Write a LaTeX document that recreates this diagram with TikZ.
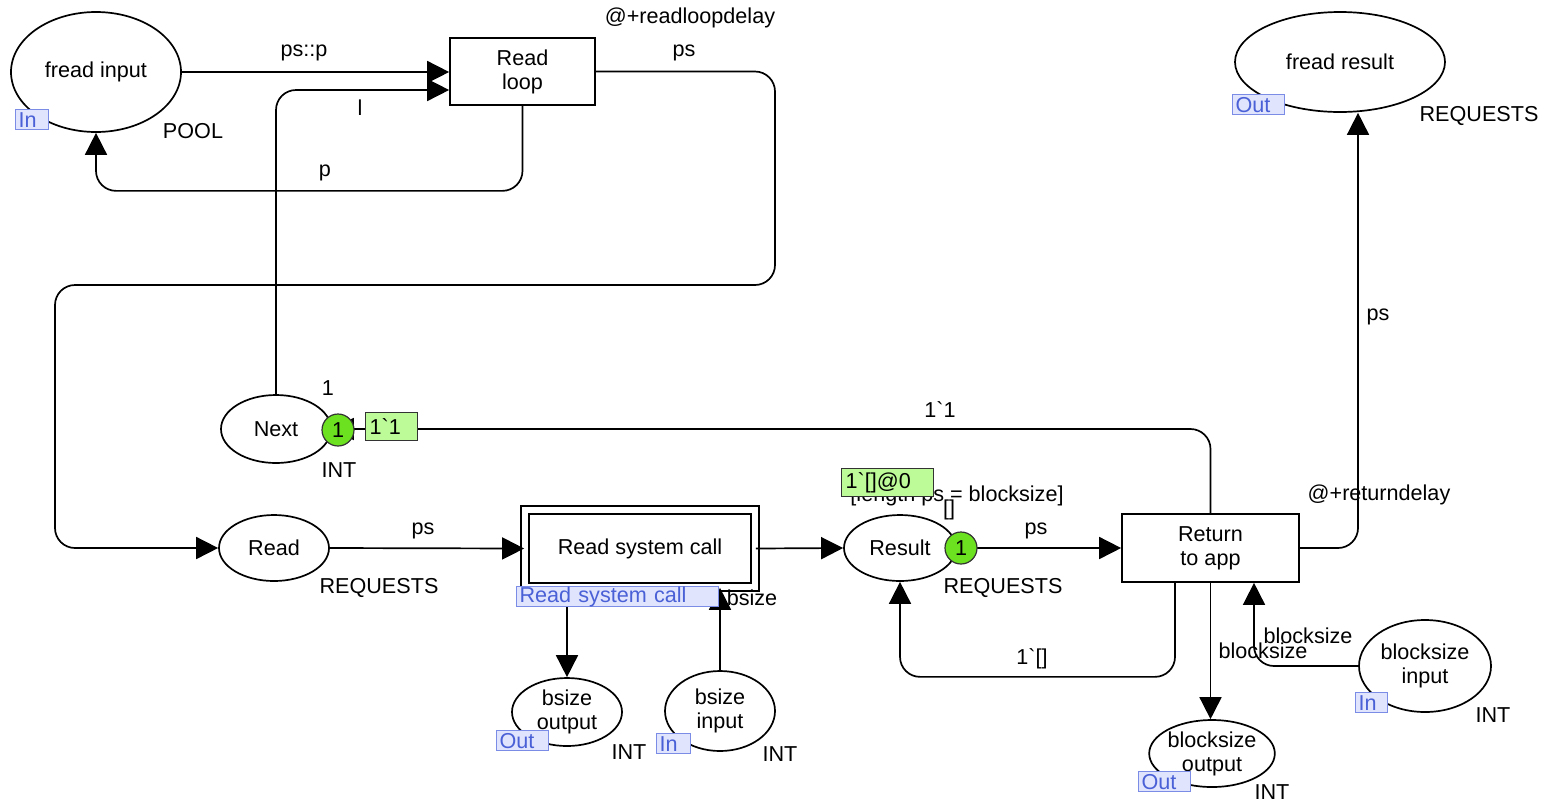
\documentclass[tikz,border=0pt]{standalone}
\usepackage{fontspec}
\setmainfont{Liberation Sans}[Ligatures=TeXOff]
\usetikzlibrary{shapes.geometric,arrows.meta}
\definecolor{tagfill}{HTML}{E0E4FC}
\definecolor{tagline}{HTML}{7B8CE6}
\definecolor{tagtext}{HTML}{4A60D6}
\definecolor{tokfill}{HTML}{6CE11F}
\definecolor{markfill}{HTML}{BDFB98}
\begin{document}
\begin{tikzpicture}[x=0.5pt,y=-0.5pt,
  font=\fontsize{10.8}{12}\selectfont,
  place/.style={ellipse,draw,line width=0.85pt,fill=white,inner sep=0pt,align=center},
  trans/.style={rectangle,draw,line width=0.85pt,fill=white,inner sep=0pt,align=center},
  arc/.style={draw,line width=0.85pt,rounded corners=10pt,-{Triangle[length=11pt,width=11pt]}},
  porttag/.style={rectangle,draw=tagline,fill=tagfill,text=tagtext,line width=0.6pt,
    inner xsep=1.5pt,inner ysep=0pt,minimum height=10pt,anchor=north west,align=left,text width=#1},
  token/.style={circle,draw=black!80,fill=tokfill,line width=0.6pt,inner sep=0pt,minimum size=16pt},
  marking/.style={rectangle,draw=black!80,fill=markfill,line width=0.6pt,inner xsep=2pt,inner ysep=0pt,
    minimum height=14pt,anchor=north west,align=left,text width=#1},
  lbl/.style={inner sep=0pt}]
\useasboundingbox (0,0) rectangle (1545,804);

% places
\node[place,minimum width=85pt,minimum height=60pt] (fi) at (96,72) {fread input};
\node[place,minimum width=105pt,minimum height=50pt] (fr) at (1340,62) {fread result};
\node[place,minimum width=55pt,minimum height=34pt] (nx) at (276,429) {Next};
\node[place,minimum width=55pt,minimum height=33pt] (rd) at (274,548) {Read};
\node[place,minimum width=56pt,minimum height=33pt] (rs) at (900,548) {Result};
\node[place,minimum width=55pt,minimum height=34pt] (so) at (567,712) {bsize\\output};
\node[place,minimum width=55pt,minimum height=40pt] (si) at (720,711) {bsize\\input};
\node[place,minimum width=56pt,minimum height=33.5pt] (bo) at (1212,753.5) {blocksize\\output};
\node[place,minimum width=66pt,minimum height=46pt] (bi) at (1425,666) {blocksize\\input};

% transitions
\node[trans,minimum width=72.5pt,minimum height=33.5pt] (rl) at (522.5,71.5) {Read\\loop};
\node[trans,minimum width=88.5pt,minimum height=34pt] (ra) at (1210.5,548) {Return\\to app};
\node[trans,double,double distance=3.2pt,minimum width=115pt,minimum height=38.5pt] (rsc) at (640,548.5) {Read system call};

% arcs
\draw[arc] (fi.east) -- (fi.east -| rl.west);
\draw[arc] (nx.north) |- ([yshift=-9.25pt]rl.west);
\draw[arc] (rl.south) -- ++(0,85) -| (fi.south);
\coordinate (c1) at (775,285);
\coordinate (c2) at (55,285);
\draw[arc] (rl.east) -| (c1) -- (c2) |- (rd.west);
\draw[arc] (ra.north) |- (nx.east);
\draw[arc] (rd.east) -- (rsc.west);
\draw[arc] (rsc.east) -- (rs.west);
\draw[arc] (rs.east) -- (ra.west);
\draw[arc] ([xshift=-17.75pt]ra.south) -- ++(0,94) -| (rs.south);
\draw[arc] (ra.east) -| ([xshift=9pt]fr.south);
\draw[arc] (ra.south) -- (ra.south |- bo.north);
\draw[arc] (bi.west) -| ([xshift=21.75pt]ra.south);
\draw[arc] (so.north |- rsc.south) -- (so.north);
\draw[arc] (si.north) -- (si.north |- rsc.south);

% arc inscriptions
\node[lbl] at (304,53) {ps::p};
\node[lbl] at (360,108) {l};
\node[lbl] at (325,173) {p};
\node[lbl] at (684,53) {ps};
\node[lbl] at (940,410) {1\char96 1};
\node[lbl] at (423,531) {ps};
\node[lbl] at (1036,531) {ps};
\node[lbl] at (1032,659) {1\char96 []};
\node[lbl] at (1378,317) {ps};
\node[lbl] at (1263,651) {blocksize};
\node[lbl] at (1308,636) {blocksize};
\node[lbl] at (752,598) {bsize};

% transition annotations
\node[lbl] at (690,18) {@+readloopdelay};
\node[lbl] at (1379,495) {@+returndelay};
\node[lbl] at (957,496) {[length ps = blocksize]};

% colour sets and initial markings
\node[lbl] at (193,131) {POOL};
\node[lbl] at (1479,116) {REQUESTS};
\node[lbl] at (379,588) {REQUESTS};
\node[lbl] at (1003,588) {REQUESTS};
\node[lbl] at (339,470) {INT};
\node[lbl] at (328,388) {1};
\node[lbl] at (949,510) {[]};
\node[lbl] at (629,752) {INT};
\node[lbl] at (780,754) {INT};
\node[lbl] at (1272,792) {INT};
\node[lbl] at (1493,715) {INT};

% port and substitution tags
\node[porttag=13.5pt] (tfi) at (15,109) {In};
\node[porttag=23pt] (tfr) at (1232,94) {Out};
\node[porttag=98pt] (trsc) at (516,586) {Read system call};
\node[porttag=23pt] (tso) at (496,730) {Out};
\node[porttag=14pt] (tsi) at (656,733) {In};
\node[porttag=23pt] (tbo) at (1138,771) {Out};
\node[porttag=13pt] (tbi) at (1355,692) {In};

% current markings
\node[token] (k1) at (338,430) {1};
\node[token] (k2) at (961,548) {1};
\node[marking=22pt] (m1) at (365,412) {1\char96 1};
\node[marking=42pt] (m2) at (841,468) {1\char96 []@0};
\end{tikzpicture}
\end{document}
